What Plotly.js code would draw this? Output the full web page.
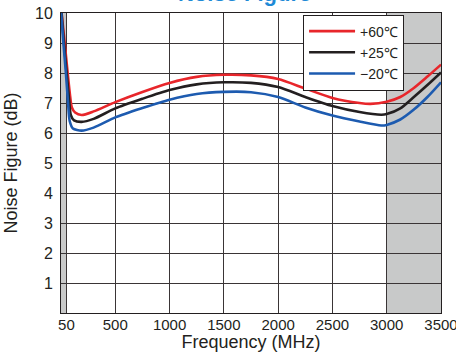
<!DOCTYPE html>
<html>
<head>
<meta charset="utf-8">
<script src="https://cdn.plot.ly/plotly-3.0.1.min.js"></script>
<style>html,body{margin:0;padding:0;background:#fff;}#chart{width:456px;height:352px;}</style>
</head>
<body>
<div id="chart"></div>
<script>
// Frequency (MHz) sample points and noise figure (dB) per temperature
const freqRed   = [5, 30, 60, 85, 100, 130, 190, 300, 500, 750, 1000, 1250, 1500, 1750, 2000, 2250, 2500, 2750, 2850, 3000, 3125, 3250, 3375, 3500];
const nfRed     = [10.0, 9.15, 8.05, 7.2, 6.85, 6.68, 6.6, 6.72, 7.03, 7.37, 7.67, 7.87, 7.94, 7.92, 7.8, 7.48, 7.17, 7.0, 6.97, 7.04, 7.2, 7.5, 7.88, 8.28];

const freqBlack = [5, 25, 52, 75, 90, 120, 190, 300, 500, 750, 1000, 1250, 1500, 1750, 2000, 2250, 2500, 2750, 2950, 3000, 3125, 3250, 3375, 3500];
const nfBlack   = [10.0, 9.1, 8.0, 7.1, 6.6, 6.42, 6.37, 6.47, 6.82, 7.14, 7.43, 7.62, 7.69, 7.67, 7.53, 7.2, 6.9, 6.7, 6.61, 6.63, 6.82, 7.2, 7.6, 8.02];

const freqBlue  = [2, 20, 45, 65, 80, 110, 190, 300, 500, 750, 1000, 1250, 1500, 1750, 2000, 2250, 2500, 2750, 2950, 3000, 3125, 3250, 3375, 3500];
const nfBlue    = [10.0, 9.1, 8.0, 7.0, 6.4, 6.15, 6.08, 6.18, 6.52, 6.83, 7.11, 7.3, 7.37, 7.36, 7.2, 6.85, 6.58, 6.38, 6.25, 6.27, 6.45, 6.78, 7.2, 7.69];

const seriesNames = ['+60\u2103', '+25\u2103', '\u221220\u2103'];
const xTickVals = [50, 500, 1000, 1500, 2000, 2500, 3000, 3500];
const yTickVals = [1, 2, 3, 4, 5, 6, 7, 8, 9, 10];
const shadedBands = [[0, 50], [3000, 3500]];
const chartTitle = 'Noise Figure';

const lineColors = ['#e8262b', '#231f20', '#1d5bb0'];
const font = 'Liberation Sans, Arial, sans-serif';

const traces = [
  {x: freqRed, y: nfRed, name: seriesNames[0]},
  {x: freqBlack, y: nfBlack, name: seriesNames[1]},
  {x: freqBlue, y: nfBlue, name: seriesNames[2]}
].map((t, i) => Object.assign(t, {
  type: 'scatter', mode: 'lines',
  line: {color: lineColors[i], width: 2.6, shape: 'spline', smoothing: 0.7},
  hoverinfo: 'skip'
}));

const shapes = shadedBands.map(b => ({
  type: 'rect', xref: 'x', yref: 'paper', x0: b[0], x1: b[1], y0: 0, y1: 1,
  fillcolor: '#c8c9c9', line: {width: 0}, layer: 'below'
}));

const layout = {
  width: 456, height: 352,
  margin: {l: 61, r: 15, t: 13, b: 39, pad: 0},
  paper_bgcolor: '#ffffff', plot_bgcolor: '#ffffff',
  font: {family: font, color: '#231f20', size: 15},
  annotations: [{
    text: '<b>' + chartTitle + '</b>', showarrow: false,
    font: {family: font, size: 22, color: '#1f8ad6'},
    xref: 'paper', x: 0.484, xanchor: 'center',
    yref: 'paper', y: 1.018, yanchor: 'bottom'
  }],
  xaxis: {
    range: [0, 3500], tickvals: xTickVals, ticktext: xTickVals.map(String),
    showgrid: true, gridcolor: '#3a3536', gridwidth: 1,
    zeroline: false, showline: true, linecolor: '#231f20', linewidth: 1, mirror: true,
    ticks: '', ticklabeloverflow: 'allow', ticklabelstandoff: -2,
    tickfont: {size: 15, family: font, color: '#231f20'},
    title: {text: 'Frequency (MHz)', font: {size: 18, family: font, color: '#231f20'}, standoff: 3}
  },
  yaxis: {
    range: [0, 10], tickvals: yTickVals, ticktext: yTickVals.map(String),
    showgrid: true, gridcolor: '#3a3536', gridwidth: 1,
    zeroline: false, showline: true, linecolor: '#231f20', linewidth: 1, mirror: true,
    ticks: 'outside', ticklen: 4, tickcolor: 'rgba(0,0,0,0)',
    tickfont: {size: 16, family: font, color: '#231f20'},
    title: {text: 'Noise Figure (dB)', font: {size: 18, family: font, color: '#231f20'}, standoff: 12}
  },
  showlegend: true,
  legend: {
    x: 0.637, xanchor: 'left', y: 0.995, yanchor: 'top',
    bgcolor: '#ffffff', bordercolor: '#231f20', borderwidth: 1,
    font: {size: 14, family: font, color: '#231f20'},
    itemwidth: 46, tracegroupgap: 0
  },
  shapes: shapes
};

Plotly.newPlot('chart', traces, layout, {displayModeBar: false, staticPlot: true});
</script>
</body>
</html>
